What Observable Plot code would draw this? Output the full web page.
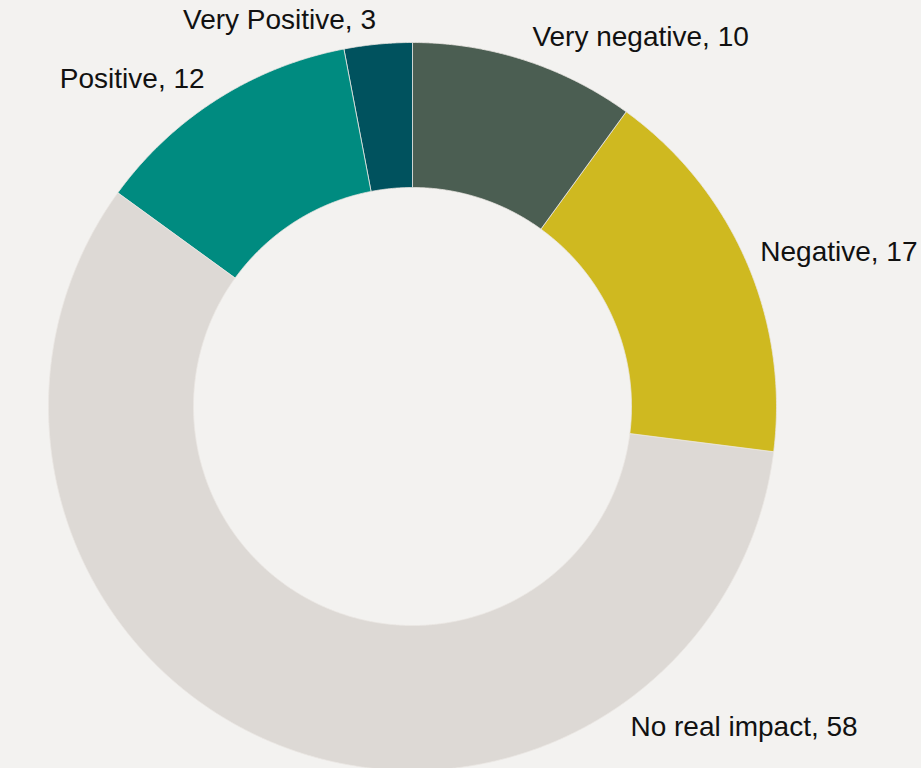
<!DOCTYPE html>
<html><head><meta charset="utf-8">
<script src="https://cdn.jsdelivr.net/npm/d3@7"></script>
<script src="https://cdn.jsdelivr.net/npm/@observablehq/plot@0.6"></script>
<style>html,body{margin:0;padding:0;background:#f3f2f0;overflow:hidden} svg{display:block}</style>
</head><body><div id="chart"></div>
<script>
// ---- data ----
const categories = ["Very negative", "Negative", "No real impact", "Positive", "Very Positive"];
const values = [10, 17, 58, 12, 3];
const colors = ["#4b5e52", "#cfb920", "#ddd9d5", "#008b80", "#00525e"];

// ---- layout ----
const W = 921, H = 768;
const R = 364, cx = 412, cy = 406;          // outer radius & centre (px)
const inner = 219 / R;                        // inner radius (unit)
const labelR = 388 / R;                       // label anchor radius (unit)
const yFloor = -(727 - cy) / R;               // lowest label centre (unit)
const fontSize = 28, font = "'Liberation Sans', Arial, sans-serif";
const edgePad = 4;

const ctx = document.createElement("canvas").getContext("2d");
ctx.font = `${fontSize}px ${font}`;

const slices = d3.pie().sort(null).value(d => d.value)(
  categories.map((c, i) => ({category: c, value: values[i]}))
);

const ring = [];
slices.forEach(s => {
  const n = Math.max(4, Math.ceil((s.endAngle - s.startAngle) / 0.004));
  for (let k = 0; k <= n; k++) {
    const a = s.startAngle + (s.endAngle - s.startAngle) * k / n;
    ring.push({category: s.data.category, x: Math.sin(a), y: Math.cos(a)});
  }
  for (let k = n; k >= 0; k--) {
    const a = s.startAngle + (s.endAngle - s.startAngle) * k / n;
    ring.push({category: s.data.category, x: inner * Math.sin(a), y: inner * Math.cos(a)});
  }
});

// labels sit just outside the ring at the slice's mid-angle;
// a label that would drop below the frame slides round to the lower right,
// and a label that would run past the side edge is pulled back inside
const xMax = (W - cx - edgePad) / R, xMin = -(cx - edgePad) / R;
const labels = slices.map(s => {
  let a = (s.startAngle + s.endAngle) / 2;
  if (labelR * Math.cos(a) < yFloor) a = Math.acos(yFloor / labelR);
  const text = `${s.data.category}, ${s.data.value}`;
  const w = ctx.measureText(text).width / R;
  const anchor = Math.sin(a) >= 0 ? "start" : "end";
  let x = labelR * Math.sin(a);
  if (anchor === "start") x = Math.min(x, xMax - w);
  else x = Math.max(x, xMin + w);
  return {text, x, y: labelR * Math.cos(a), anchor};
});

const textMarks = ["start", "end"].map(anchor => Plot.text(
  labels.filter(l => l.anchor === anchor),
  {x: "x", y: "y", text: "text", textAnchor: anchor, lineAnchor: "middle",
   fontSize, fill: "#111111"}
));

const chart = Plot.plot({
  width: W, height: H,
  margin: 0,
  style: {background: "#f3f2f0", fontFamily: font, overflow: "visible"},
  x: {domain: [-cx / R, (W - cx) / R], range: [0, W], axis: null},
  y: {domain: [-(H - cy) / R, cy / R], range: [H, 0], axis: null},
  color: {domain: categories, range: colors},
  marks: [
    Plot.line(ring, {x: "x", y: "y", z: "category", fill: "category",
      stroke: "#ebe7e3", strokeWidth: 0.8, curve: "linear-closed"}),
    ...textMarks
  ]
});
document.getElementById("chart").append(chart);
</script>
</body></html>
